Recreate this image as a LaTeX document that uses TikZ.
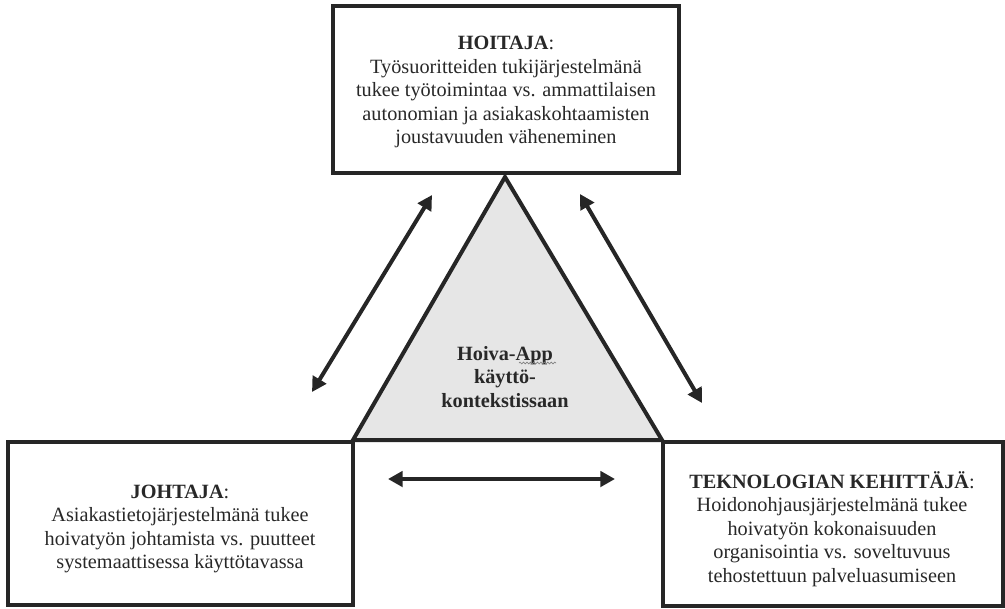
\documentclass[tikz,border=0pt]{standalone}
\usepackage{fontspec}
\setmainfont{Liberation Serif}
\usetikzlibrary{arrows.meta,decorations.pathmorphing}
\definecolor{ink}{RGB}{38,38,38}
\definecolor{txt}{RGB}{40,40,40}
\definecolor{trifill}{RGB}{230,230,230}
\begin{document}
\begin{tikzpicture}[x=0.75pt,y=-0.75pt,
  box/.style={draw=ink, line width=3pt, fill=white, inner sep=0pt},
  boxtext/.style={align=center, text=txt, font=\fontsize{15.2}{17.6}\selectfont, inner sep=0pt},
  dbl/.style={draw=ink, line width=3pt,
    {Triangle[length=11pt,width=11.5pt]}-{Triangle[length=11pt,width=11.5pt]}},
  applabel/.style={align=center, text=txt, font=\fontsize{15.2}{17.6}\selectfont\bfseries}]
\useasboundingbox (0,0) rectangle (1005,608);
% central triangle
\draw[draw=ink, line width=3pt, fill=trifill, line join=miter] (505,177) -- (662,440) -- (353,440) -- cycle;
% boxes
\node[box, minimum width=259.5pt, minimum height=125.25pt] (hoitaja) at (506,89.5) {};
\node[box, minimum width=258.75pt, minimum height=122.25pt] (johtaja) at (180.5,523.5) {};
\node[box, minimum width=255pt, minimum height=123pt] (kehittaja) at (833,524) {};
\node[boxtext] (hoitajatxt) at (506,92)
  {\textbf{HOITAJA}:\\Työsuoritteiden tukijärjestelmänä\\tukee työtoimintaa vs. ammattilaisen\\autonomian ja asiakaskohtaamisten\\joustavuuden väheneminen};
\node[boxtext] (johtajatxt) at (180,529)
  {\textbf{JOHTAJA}:\\Asiakastietojärjestelmänä tukee\\hoivatyön johtamista vs. puutteet\\systemaattisessa käyttötavassa};
\node[boxtext] (kehittajatxt) at (832,529)
  {\textbf{TEKNOLOGIAN KEHITTÄJÄ}:\\Hoidonohjausjärjestelmänä tukee\\hoivatyön kokonaisuuden\\organisointia vs. soveltuvuus\\tehostettuun palveluasumiseen};
% triangle label
\node[applabel] (app) at (505,377) {Hoiva-App\\käyttö-\\kontekstissaan};
\draw[gray, line width=0.5pt, decorate, decoration={snake, amplitude=0.7pt, segment length=2.6pt}] (519,363) -- (556,363);
% arrows
\coordinate (la) at (432,195);
\coordinate (lb) at (312,392);
\coordinate (ra) at (580,194);
\coordinate (rb) at (702,403);
\coordinate (ha) at (388,479);
\coordinate (hb) at (615,479);
\draw[dbl] (la) -- (lb);
\draw[dbl] (ra) -- (rb);
\draw[dbl] (ha) -- (hb);
\end{tikzpicture}
\end{document}
